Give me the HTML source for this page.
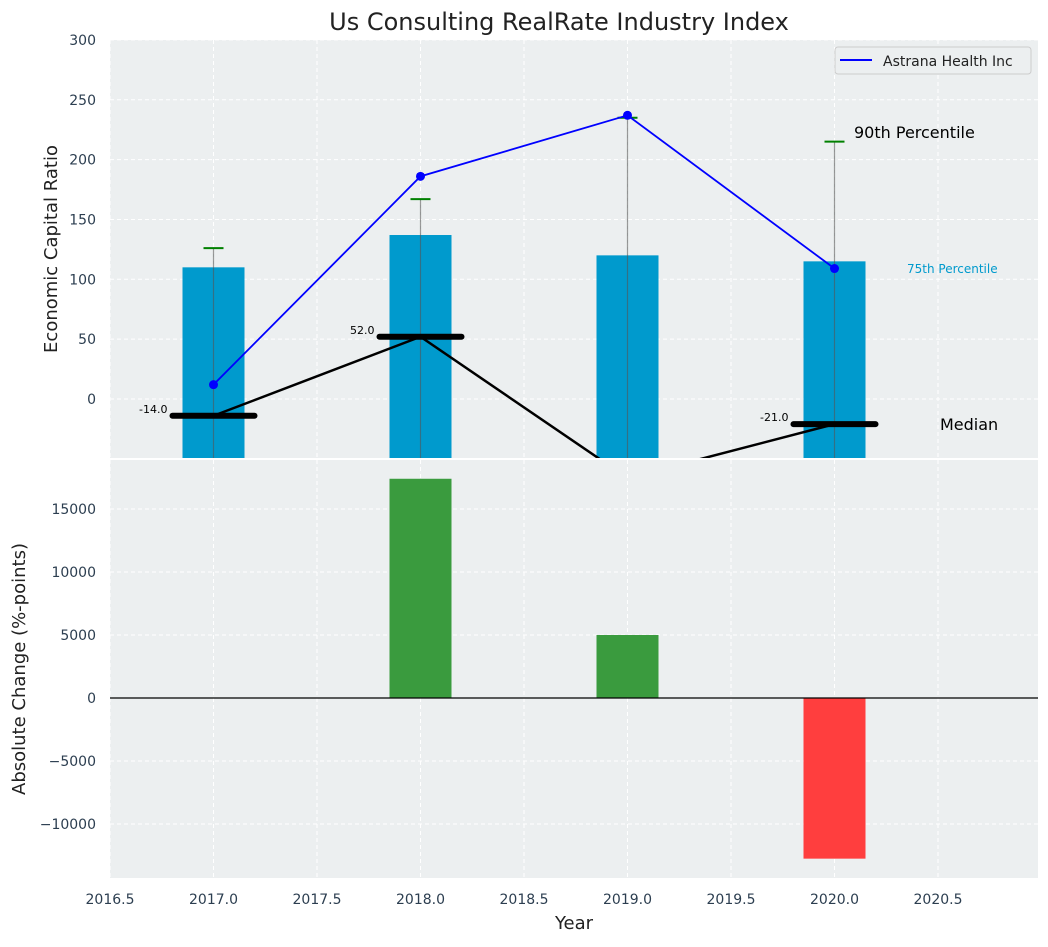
<!DOCTYPE html>
<html><head><meta charset="utf-8"><style>
body{margin:0;background:#fff;font-family:"Liberation Sans","DejaVu Sans",sans-serif}
svg text{font-family:"DejaVu Sans","Liberation Sans",sans-serif}
</style></head><body>
<svg id="chart" width="1048" height="942" xmlns="http://www.w3.org/2000/svg">
<defs>
<clipPath id="clipTop"><rect x="110" y="40" width="928" height="418"/></clipPath>
<clipPath id="clipBot"><rect x="110" y="460" width="928" height="418"/></clipPath>
</defs>
<text x="559" y="30" text-anchor="middle" font-size="24" fill="#222">Us Consulting RealRate Industry Index</text>
<g id="topPanel"></g>
<g id="botPanel"></g>
</svg>
<script>
const years = [2017, 2018, 2019, 2020];
const p75 = [110, 137, 120, 115];
const p90 = [126, 167, 235, 215];
const median = [-14, 52, -66, -21];
const company = [12, 186, 237, 109];
const changes = [0, 17400, 5000, -12750];
const xTicks = [2016.5, 2017.0, 2017.5, 2018.0, 2018.5, 2019.0, 2019.5, 2020.0, 2020.5];
const topTicks = [0, 50, 100, 150, 200, 250, 300];
const botTicks = [-10000, -5000, 0, 5000, 10000, 15000];

(function(){
const NS = 'http://www.w3.org/2000/svg';
const X = v => 110 + (v - 2016.5) * 207;
const YT = v => 399 - v * 1.197;
const YB = v => 698 - v * 0.0126;
function mk(parent, tag, attrs, text) {
  const el = document.createElementNS(NS, tag);
  for (const k in attrs) el.setAttribute(k, attrs[k]);
  if (text !== undefined) el.textContent = text;
  parent.appendChild(el);
  return el;
}
const topG = document.getElementById('topPanel');
const botG = document.getElementById('botPanel');
let e;

e = mk(topG, 'rect', {x:110, y:40, width:928, height:418, fill:'#eceff0'});


e = mk(botG, 'rect', {x:110, y:460, width:928, height:418, fill:'#eceff0'});



xTicks.forEach(t => {
  mk(topG, 'line', {x1:X(t), x2:X(t), y1:40, y2:458, stroke:'#fff', 'stroke-dasharray':'4,3', 'stroke-width':1});
  mk(botG, 'line', {x1:X(t), x2:X(t), y1:460, y2:878, stroke:'#fff', 'stroke-dasharray':'4,3', 'stroke-width':1});
  e = mk(botG, 'text', {x:X(t), y:904, 'text-anchor':'middle', 'font-size':14, fill:'#2c3e50'}, t.toFixed(1));
  
  
});
topTicks.forEach(t => {
  mk(topG, 'line', {x1:110, x2:1038, y1:YT(t), y2:YT(t), stroke:'#fff', 'stroke-dasharray':'4,3'});
  e = mk(topG, 'text', {x:96, y:YT(t)+5, 'text-anchor':'end', 'font-size':14, fill:'#2c3e50'}, String(t));
  
  
});
botTicks.forEach(t => {
  mk(botG, 'line', {x1:110, x2:1038, y1:YB(t), y2:YB(t), stroke:'#fff', 'stroke-dasharray':'4,3'});
  e = mk(botG, 'text', {x:96, y:YB(t)+5, 'text-anchor':'end', 'font-size':14, fill:'#2c3e50'}, (t<0?'\u2212'+(-t):String(t)));
  
  
});

const tg = mk(topG, 'g', {'clip-path':'url(#clipTop)'});
years.forEach((y, i) => {
  e = mk(tg, 'rect', {x:X(y)-31, y:YT(p75[i]), width:62, height:500, fill:'#009acd'});
  
  
  e = mk(tg, 'line', {x1:X(y), x2:X(y), y1:YT(p90[i]), y2:470, stroke:'#555', 'stroke-opacity':0.6, 'stroke-width':1.2});
  
  
  e = mk(tg, 'line', {x1:X(y)-10, x2:X(y)+10, y1:YT(p90[i]), y2:YT(p90[i]), stroke:'#008000', 'stroke-width':2});
  
  
});
e = mk(tg, 'polyline', {points: years.map((y,i)=>X(y)+','+YT(median[i])).join(' '), fill:'none', stroke:'#000', 'stroke-width':2.5});


years.forEach((y, i) => {
  e = mk(tg, 'line', {x1:X(y)-41, x2:X(y)+41, y1:YT(median[i]), y2:YT(median[i]), stroke:'#000', 'stroke-width':6, 'stroke-linecap':'round'});
  
  
  if (median[i] > -50) {
    e = mk(tg, 'text', {x:X(y)-46, y:YT(median[i])-3, 'text-anchor':'end', 'font-size':11, fill:'#000'}, median[i].toFixed(1));
    
    
  }
});
e = mk(tg, 'polyline', {points: years.map((y,i)=>X(y)+','+YT(company[i])).join(' '), fill:'none', stroke:'#0000ff', 'stroke-width':1.8});


years.forEach((y, i) => {
  e = mk(tg, 'circle', {cx:X(y), cy:YT(company[i]), r:4.5, fill:'#0000ff'});
  
  
});
e = mk(topG, 'text', {x:854, y:138, 'font-size':16, fill:'#000'}, '90th Percentile');


e = mk(topG, 'text', {x:907, y:273, 'font-size':12, fill:'#009acd'}, '75th Percentile');


e = mk(topG, 'text', {x:940, y:430, 'font-size':16, fill:'#000'}, 'Median');



const lg = mk(topG, 'g', {});


mk(lg, 'rect', {x:835, y:47, width:196, height:27, rx:3, fill:'#eceff0', stroke:'#ccc'});
mk(lg, 'line', {x1:840, x2:872, y1:60, y2:60, stroke:'#0000ff', 'stroke-width':2});
e = mk(lg, 'text', {x:883, y:66, 'font-size':14, fill:'#222'}, 'Astrana Health Inc');



const bg = mk(botG, 'g', {'clip-path':'url(#clipBot)'});
years.forEach((y, i) => {
  const v = changes[i];
  e = mk(bg, 'rect', {x:X(y)-31, y:Math.min(YB(v), YB(0)), width:62, height:Math.abs(YB(v)-YB(0)), fill: v>=0 ? '#3a9b3e' : '#ff3e3e'});
  
  
});
e = mk(botG, 'line', {x1:110, x2:1038, y1:YB(0), y2:YB(0), stroke:'#000', 'stroke-width':1.2});



e = mk(topG, 'text', {x:57, y:249, 'text-anchor':'middle', 'font-size':18, fill:'#222', transform:'rotate(-90 57 249)'}, 'Economic Capital Ratio');


e = mk(botG, 'text', {x:25, y:669, 'text-anchor':'middle', 'font-size':18, fill:'#222', transform:'rotate(-90 25 669)'}, 'Absolute Change (%-points)');


e = mk(botG, 'text', {x:574, y:929, 'text-anchor':'middle', 'font-size':18, fill:'#222'}, 'Year');


})();
</script>
</body></html>
